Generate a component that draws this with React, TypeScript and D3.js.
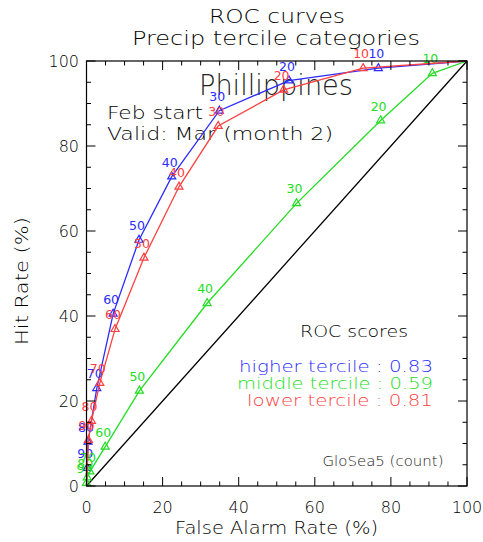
import React from 'react';
import * as d3 from 'd3';

const thresholds = [10, 20, 30, 40, 50, 60, 70, 80, 90];
const higherFar = [76.7, 53.2, 34.9, 22.4, 13.8, 7.0, 2.7, 0.4, 0.2];
const higherHit = [98.3, 95.4, 88.3, 72.8, 57.9, 40.5, 23.0, 10.4, 4.2];
const middleFar = [90.9, 77.3, 55.2, 31.7, 13.9, 4.9, 0.9, 0.2, 0.0];
const middleHit = [97.1, 86.0, 66.5, 43.0, 22.4, 9.2, 3.4, 2.0, 0.7];
const lowerFar = [72.7, 51.8, 34.6, 24.3, 15.1, 7.5, 3.5, 1.3, 0.5];
const lowerHit = [98.3, 93.2, 84.7, 70.4, 53.7, 36.9, 24.2, 15.3, 10.8];

const scoreNames = ['higher tercile', 'middle tercile', 'lower tercile'];
const scoreValues = ['0.83', '0.59', '0.81'];
const axisTicks = [0, 20, 40, 60, 80, 100];

const W = 483;
const H = 542;
const left = 86.5;
const right = 467;
const top = 61;
const bottom = 486;
const FONT = "'DejaVu Sans', sans-serif";
const WEIGHT = 200;

const colors = ['#2b2bff', '#22dd22', '#ff4040'];
const scoreWidths = [194, 196, 186];

export default function App() {
  const x = d3.scaleLinear().domain([0, 100]).range([left, right]);
  const y = d3.scaleLinear().domain([0, 100]).range([bottom, top]);
  const line = d3
    .line<[number, number]>()
    .x((d) => x(d[0]))
    .y((d) => y(d[1]));
  const tri = d3.symbol().type(d3.symbolTriangle).size(28)();

  const series = [
    { far: higherFar, hit: higherHit, color: colors[0] },
    { far: middleFar, hit: middleHit, color: colors[1] },
    { far: lowerFar, hit: lowerHit, color: colors[2] },
  ];

  const minor = d3.range(0, 101, 5);
  const isMajor = (v: number) => v % 20 === 0;

  return (
    <svg
      width={W}
      height={H}
      style={{ position: 'absolute', left: 0, top: 0, background: '#fff' }}
      fontFamily={FONT}
      fontWeight={WEIGHT}
    >
      <rect x={0} y={0} width={W} height={H} fill="#fff" />
      {/* titles */}
      <text x={277} y={23} textAnchor="middle" fontSize={19} fill="#000" textLength={136} lengthAdjust="spacingAndGlyphs">
        ROC curves
      </text>
      <text x={276} y={45} textAnchor="middle" fontSize={19} fill="#000" textLength={288} lengthAdjust="spacingAndGlyphs">
        Precip tercile categories
      </text>

      {/* diagonal */}
      <line x1={x(0)} y1={y(0)} x2={x(100)} y2={y(100)} stroke="#000" strokeWidth={1.3} />

      {/* big annotation text */}
      <text x={276} y={95} textAnchor="middle" fontSize={28} fill="#222" textLength={154} lengthAdjust="spacingAndGlyphs">
        Phillippines
      </text>
      <text x={107} y={119} fontSize={18} fill="#000" textLength={96} lengthAdjust="spacingAndGlyphs">
        Feb start
      </text>
      <text x={107} y={140} fontSize={18} fill="#000" textLength={226} lengthAdjust="spacingAndGlyphs">
        Valid: Mar (month 2)
      </text>

      {/* curves */}
      {series.map((s, si) => {
        const pts: [number, number][] = [[0, 0]];
        for (let i = s.far.length - 1; i >= 0; i--) pts.push([s.far[i], s.hit[i]]);
        pts.push([100, 100]);
        return (
          <g key={si}>
            <path d={line(pts) || ''} fill="none" stroke={s.color} strokeWidth={1.3} />
            {s.far.map((f, i) => (
              <g key={i}>
                <path
                  d={tri}
                  transform={`translate(${x(f)},${y(s.hit[i])})`}
                  fill="none"
                  stroke={s.color}
                  strokeWidth={1.2}
                />
                <text
                  x={x(f) - 2}
                  y={y(s.hit[i]) - 10}
                  textAnchor="middle"
                  fontSize={12.5}
                  fontWeight={400}
                  fill={s.color}
                >
                  {thresholds[i]}
                </text>
              </g>
            ))}
          </g>
        );
      })}

      {/* frame */}
      <rect x={left} y={top} width={right - left} height={bottom - top} fill="none" stroke="#000" strokeWidth={1.2} />
      {minor.map((v) => {
        const L = isMajor(v) ? 9 : 4.5;
        return (
          <g key={v} stroke="#000" strokeWidth={1}>
            <line x1={x(v)} x2={x(v)} y1={bottom} y2={bottom - L} />
            <line x1={x(v)} x2={x(v)} y1={top} y2={top + L} />
            <line x1={left} x2={left + L} y1={y(v)} y2={y(v)} />
            <line x1={right} x2={right - L} y1={y(v)} y2={y(v)} />
          </g>
        );
      })}

      {/* tick labels */}
      {axisTicks.map((v) => (
        <text key={'x' + v} x={x(v)} y={513} textAnchor="middle" fontSize={16} fill="#000">
          {v}
        </text>
      ))}
      {axisTicks.map((v) => (
        <text key={'y' + v} x={79} y={y(v) + 6} textAnchor="end" fontSize={16} fill="#000">
          {v}
        </text>
      ))}

      {/* axis titles */}
      <text x={276.5} y={534} textAnchor="middle" fontSize={17} fill="#000" textLength={203} lengthAdjust="spacingAndGlyphs">
        False Alarm Rate (%)
      </text>
      <text
        transform={`translate(27.5,281) rotate(-90)`}
        textAnchor="middle"
        fontSize={17}
        fill="#000"
        textLength={128}
        lengthAdjust="spacingAndGlyphs"
      >
        Hit Rate (%)
      </text>

      {/* ROC scores */}
      <text x={354} y={337} textAnchor="middle" fontSize={16.5} fill="#000" textLength={108} lengthAdjust="spacingAndGlyphs">
        ROC scores
      </text>
      {scoreNames.map((n, i) => (
        <text
          key={n}
          x={433}
          y={371.5 + i * 17.1}
          textAnchor="end"
          fontSize={16.5}
          fill={colors[i]}
          textLength={scoreWidths[i]}
          lengthAdjust="spacingAndGlyphs"
        >
          {`${n} : ${scoreValues[i]}`}
        </text>
      ))}
      <text x={383} y={465.5} textAnchor="middle" fontSize={13.5} fill="#222" textLength={121} lengthAdjust="spacingAndGlyphs">
        GloSea5 (count)
      </text>
    </svg>
  );
}
